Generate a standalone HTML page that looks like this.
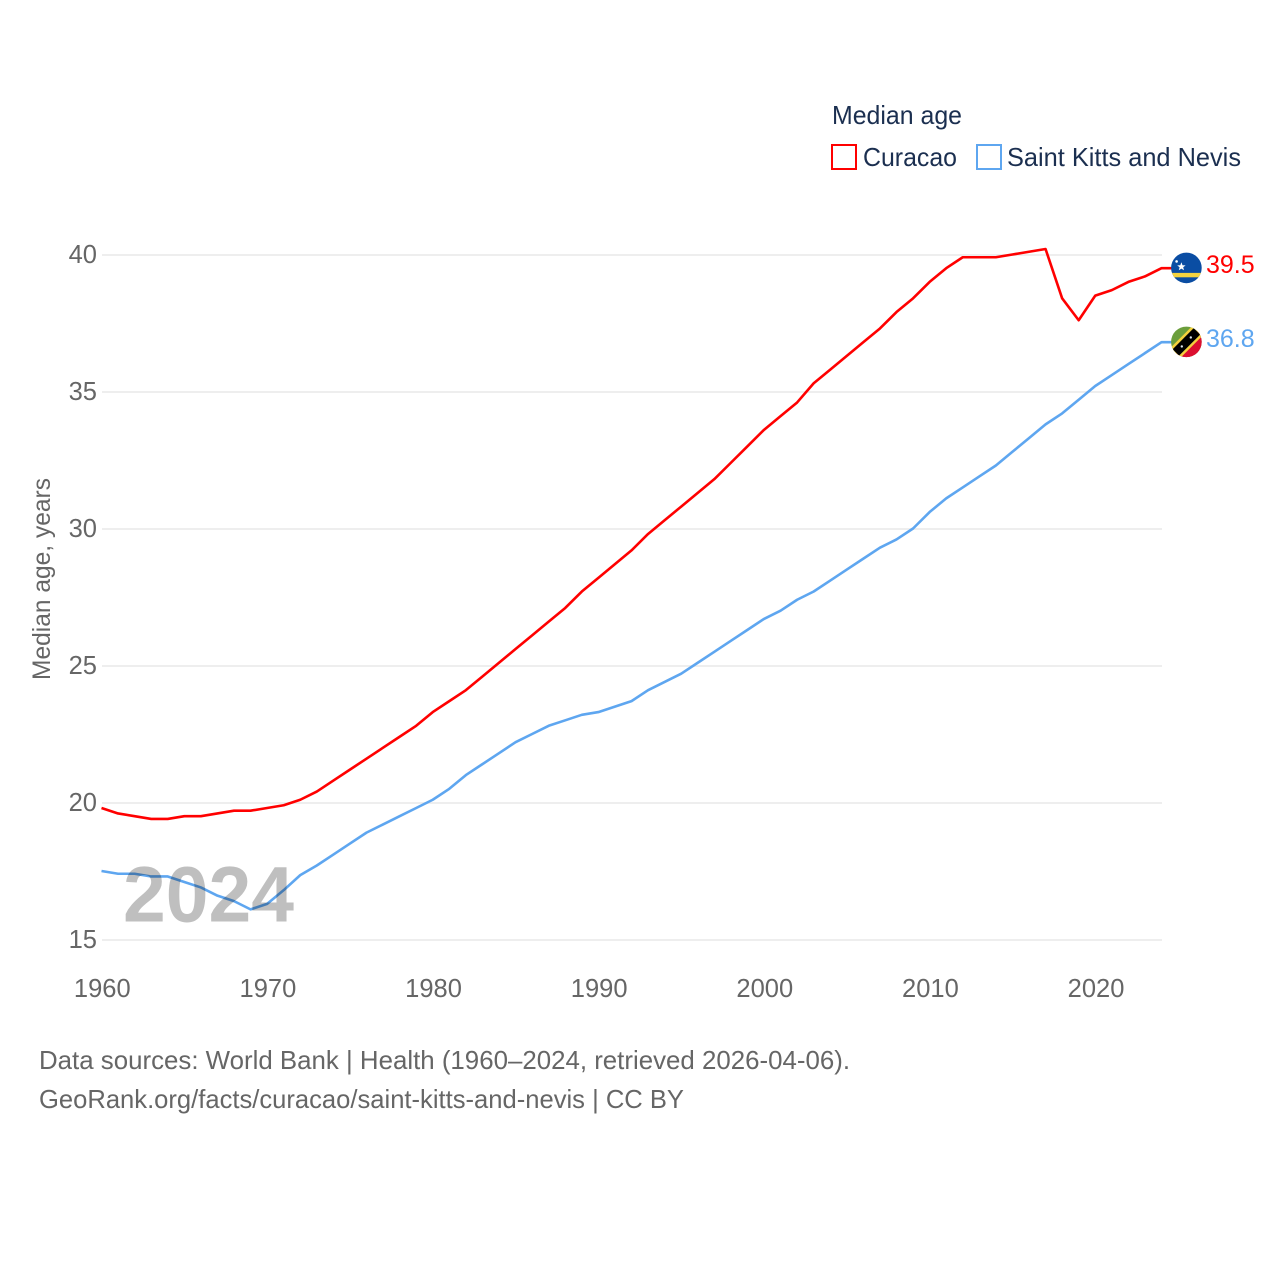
<!DOCTYPE html>
<html lang="en">
<head>
<meta charset="utf-8">
<title>Median age: Curacao and Saint Kitts and Nevis</title>
<style>
html,body{margin:0;padding:0;background:#fff;width:1280px;height:1280px;overflow:hidden}
svg{display:block}
text{font-family:"Liberation Sans",sans-serif}
</style>
</head>
<body>
<svg id="chart" xmlns="http://www.w3.org/2000/svg" width="1280" height="1280" viewBox="0 0 1280 1280">
  <rect width="1280" height="1280" fill="#fff"/>
  <g id="grid"></g>
  <g id="yticks"></g>
  <g id="xticks"></g>
  <text transform="translate(50,680) rotate(-90)" font-size="25" fill="#666" textLength="202" lengthAdjust="spacingAndGlyphs">Median age, years</text>

  <g id="series"></g>

  <text x="123" y="921.5" font-size="79" font-weight="bold" fill="#000" fill-opacity="0.25" textLength="171" lengthAdjust="spacingAndGlyphs">2024</text>

  <g>
    <text x="832" y="124" font-size="26" fill="#1b2f50" textLength="130" lengthAdjust="spacingAndGlyphs">Median age</text>
    <g>
      <rect x="832" y="145" width="24" height="24" fill="none" stroke="#ff0000" stroke-width="2"/>
      <text x="863" y="166" font-size="26" fill="#1b2f50" textLength="94" lengthAdjust="spacingAndGlyphs">Curacao</text>
    </g>
    <g>
      <rect x="977" y="145" width="24" height="24" fill="none" stroke="#5ea6f0" stroke-width="2"/>
      <text x="1007" y="166" font-size="26" fill="#1b2f50" textLength="234" lengthAdjust="spacingAndGlyphs">Saint Kitts and Nevis</text>
    </g>
  </g>

  <defs>
    <clipPath id="flag-clip"><circle cx="0" cy="0" r="15.3"/></clipPath>
  </defs>
  <g id="flag-curacao">
    <g clip-path="url(#flag-clip)">
      <rect x="-16" y="-16" width="32" height="32" fill="#0a4da3"/>
      <rect x="-16" y="5" width="32" height="4.4" fill="#f5d33f"/>
      <polygon fill="#fff" points="-5,-5.6 -3.9,-2.6 -0.8,-2.5 -3.2,-0.6 -2.4,2.4 -5,0.7 -7.6,2.4 -6.8,-0.6 -9.2,-2.5 -6.1,-2.6"/>
      <circle cx="-9.8" cy="-6.5" r="1.3" fill="#fff"/>
    </g>
  </g>
  <g id="flag-skn">
    <g clip-path="url(#flag-clip)">
      <rect x="-16" y="-16" width="32" height="32" fill="#6b9e3c"/>
      <polygon points="16,-16 16,16 -16,16" fill="#dc0f30"/>
      <polygon points="6,-16 16,-6 -6,16 -16,6" fill="#f3d13d"/>
      <polygon points="8.5,-16 16,-8.5 -8.5,16 -16,8.5" fill="#000" transform="scale(0.86)"/>
      <circle cx="4.4" cy="-4.4" r="1.2" fill="#dfe8ee"/>
      <circle cx="-4.6" cy="4.6" r="1.2" fill="#dfe8ee"/>
    </g>
  </g>

  <g>
    <text x="39" y="1069" font-size="26" fill="#666" textLength="811" lengthAdjust="spacingAndGlyphs">Data sources: World Bank | Health (1960–2024, retrieved 2026-04-06).</text>
    <text x="39" y="1108" font-size="26" fill="#666" textLength="645" lengthAdjust="spacingAndGlyphs">GeoRank.org/facts/curacao/saint-kitts-and-nevis | CC BY</text>
  </g>
</svg>

<script>
const firstYear = 1960;
const curacaoValues = [19.8,19.6,19.5,19.4,19.4,19.5,19.5,19.6,19.7,19.7,19.8,19.9,20.1,20.4,20.8,21.2,21.6,22.0,22.4,22.8,23.3,23.7,24.1,24.6,25.1,25.6,26.1,26.6,27.1,27.7,28.2,28.7,29.2,29.8,30.3,30.8,31.3,31.8,32.4,33.0,33.6,34.1,34.6,35.3,35.8,36.3,36.8,37.3,37.9,38.4,39.0,39.5,39.9,39.9,39.9,40.0,40.1,40.2,38.4,37.6,38.5,38.7,39.0,39.2,39.5];
const skinValues = [17.5,17.4,17.4,17.3,17.3,17.1,16.9,16.6,16.4,16.1,16.3,16.8,17.35,17.7,18.1,18.5,18.9,19.2,19.5,19.8,20.1,20.5,21.0,21.4,21.8,22.2,22.5,22.8,23.0,23.2,23.3,23.5,23.7,24.1,24.4,24.7,25.1,25.5,25.9,26.3,26.7,27.0,27.4,27.7,28.1,28.5,28.9,29.3,29.6,30.0,30.6,31.1,31.5,31.9,32.3,32.8,33.3,33.8,34.2,34.7,35.2,35.6,36.0,36.4,36.8];
const yTickValues = [15,20,25,30,35,40];
const xTickValues = [1960,1970,1980,1990,2000,2010,2020];

const NS = 'http://www.w3.org/2000/svg';
const xAt = function (year) { return 102 + (year - 1960) * (1162 - 102) / 64; };
const yAt = function (v) { return 940 - (v - 15) * (940 - 255) / 25; };

function svgEl(tag, attrs, parent) {
  const el = document.createElementNS(NS, tag);
  for (const k in attrs) el.setAttribute(k, attrs[k]);
  parent.appendChild(el);
  return el;
}

const gridG = document.getElementById('grid');
const yG = document.getElementById('yticks');
yTickValues.forEach(function (v) {
  const line = svgEl('line', {x1: 102, x2: 1162, y1: yAt(v), y2: yAt(v), stroke: '#eeeeee', 'stroke-width': 2}, gridG);
  
  
  const t = svgEl('text', {x: 97, y: yAt(v) + 8, 'font-size': 25.5, fill: '#666', 'text-anchor': 'end'}, yG);
  
  
  t.textContent = String(v);
});

const xG = document.getElementById('xticks');
xTickValues.forEach(function (yr) {
  const t = svgEl('text', {x: xAt(yr) + 0.3, y: 997, 'font-size': 25.5, fill: '#666', 'text-anchor': 'middle'}, xG);
  
  
  t.textContent = String(yr);
});

const seriesG = document.getElementById('series');
function drawSeries(values, color, flagId, seriesName) {
  const pts = values.map(function (v, i) { return (xAt(firstYear + i) - 0.5).toFixed(2) + ',' + (yAt(v) - 0.5).toFixed(2); });
  const last = values[values.length - 1];
  const lastX = xAt(firstYear + values.length - 1);
  const lastY = yAt(last) - 0.5;
  pts.push((lastX + 12).toFixed(2) + ',' + lastY.toFixed(2));
  const line = svgEl('polyline', {points: pts.join(' '), fill: 'none', stroke: color, 'stroke-width': 2.6, 'stroke-linejoin': 'round'}, seriesG);
  
  
  document.getElementById(flagId).setAttribute('transform', 'translate(' + (lastX + 24.4) + ',' + (lastY - 0.3) + ')');
  const label = svgEl('text', {x: lastX + 44, y: lastY + 5, 'font-size': 25, fill: color}, seriesG);
  
  
  label.textContent = last.toFixed(1);
}
drawSeries(curacaoValues, '#ff0000', 'flag-curacao', 'curacao');
drawSeries(skinValues, '#5ea6f0', 'flag-skn', 'saint-kitts-and-nevis');
</script>
</body>
</html>
